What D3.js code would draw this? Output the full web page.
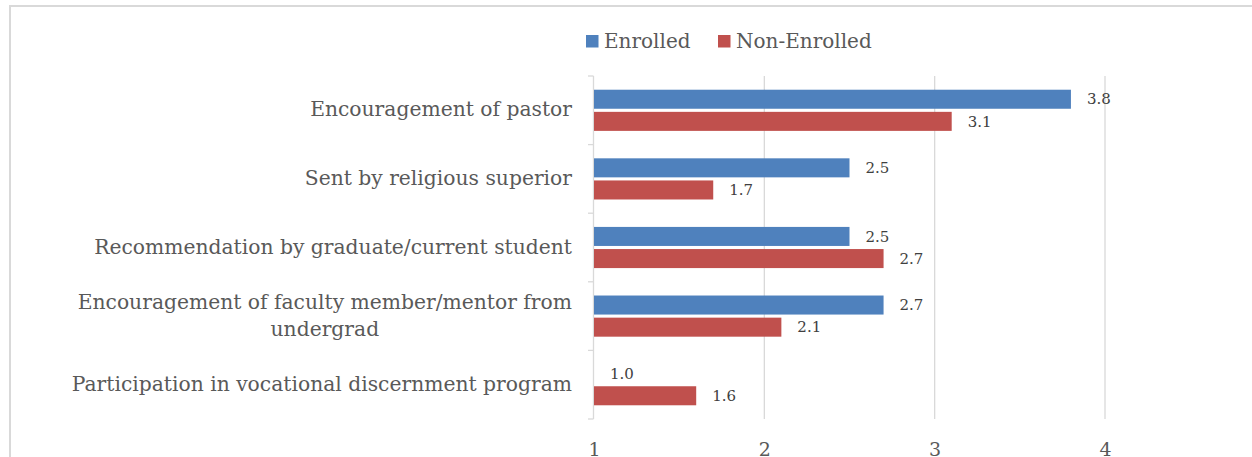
<!DOCTYPE html>
<html>
<head>
<meta charset="utf-8">
<script src="https://cdn.jsdelivr.net/npm/d3@7"></script>
<style>
  html, body { margin: 0; padding: 0; background: #fff; }
  svg { display: block; }
</style>
</head>
<body>
<svg id="chart" width="1252" height="457"></svg>
<script>
// Reasons for applying, mean rating by enrolment status
const categories = [
  "Encouragement of pastor",
  "Sent by religious superior",
  "Recommendation by graduate/current student",
  "Encouragement of faculty member/mentor from undergrad",
  "Participation in vocational discernment program"
];
const seriesNames = ["Enrolled", "Non-Enrolled"];
const enrolled = [3.8, 2.5, 2.5, 2.7, 1.0];
const nonEnrolled = [3.1, 1.7, 2.7, 2.1, 1.6];
const xTicks = [1, 2, 3, 4];

const colors = { "Enrolled": "#4F81BD", "Non-Enrolled": "#C0504D" };
const textColor = "#595959";
const gridColor = "#D9D9D9";
const serif = "'DejaVu Serif', 'Liberation Serif', serif";

const svg = d3.select("#chart");

// chart frame
svg.append("path")
  .attr("d", "M10,460 L10,6 L1260,6")
  .attr("fill", "none")
  .attr("stroke", "#D9D9D9")
  .attr("stroke-width", 2);

const plot = { left: 594, right: 1105, top: 76, bottom: 419 };

const x = d3.scaleLinear().domain([1, 4]).range([plot.left, plot.right]);
const y = d3.scaleBand().domain(categories).range([plot.top, plot.bottom]);
const ySub = d3.scaleBand().domain(seriesNames).range([0, y.bandwidth()])
  .paddingInner(0.14).paddingOuter(0.62);

// vertical gridlines
svg.append("g").selectAll("line").data(xTicks.slice(1)).join("line")
  .attr("x1", d => x(d)).attr("x2", d => x(d))
  .attr("y1", plot.top).attr("y2", plot.bottom)
  .attr("stroke", gridColor).attr("stroke-width", 1.3);

// category axis line with boundary ticks
const axisG = svg.append("g");
axisG.append("line")
  .attr("x1", plot.left - 0.5).attr("x2", plot.left - 0.5)
  .attr("y1", plot.top).attr("y2", plot.bottom)
  .attr("stroke", gridColor).attr("stroke-width", 1.3);
const bounds = categories.map(c => y(c)).concat([plot.bottom]);
axisG.selectAll("line.tk").data(bounds).join("line")
  .attr("class", "tk")
  .attr("x1", plot.left - 6).attr("x2", plot.left - 0.5)
  .attr("y1", d => d).attr("y2", d => d)
  .attr("stroke", gridColor).attr("stroke-width", 1.3);

// bottom value axis labels
const xAxis = d3.axisBottom(x).tickValues(xTicks).tickFormat(d3.format("d")).tickSize(0).tickPadding(0);
const xg = svg.append("g").attr("transform", `translate(0, 441)`).call(xAxis);
xg.select(".domain").remove();
xg.selectAll("text")
  .attr("dy", "0.78em")
  .attr("fill", textColor)
  .style("font-family", serif)
  .style("font-size", "19px");

// category labels (wrapped to fit)
const labelG = svg.append("g");
const maxLabelWidth = 505;
const labelSize = 20.3;
categories.forEach(cat => {
  const t = labelG.append("text")
    .attr("fill", textColor)
    .style("font-family", serif)
    .style("font-size", labelSize + "px")
    .attr("text-anchor", "middle");
  const words = cat.split(" ");
  let lines = [];
  let cur = [];
  const probe = labelG.append("text").style("font-family", serif).style("font-size", labelSize + "px");
  words.forEach(w => {
    const test = cur.concat([w]).join(" ");
    probe.text(test);
    if (probe.node().getComputedTextLength() > maxLabelWidth && cur.length) {
      lines.push(cur.join(" "));
      cur = [w];
    } else {
      cur.push(w);
    }
  });
  lines.push(cur.join(" "));
  const widest = d3.max(lines, l => { probe.text(l); return probe.node().getComputedTextLength(); });
  probe.remove();
  const cx = 572 - widest / 2;
  const lineH = 27;
  const cy = y(cat) + y.bandwidth() / 2 - 1;
  lines.forEach((l, i) => {
    t.append("tspan")
      .attr("x", cx)
      .attr("y", cy + (i - (lines.length - 1) / 2) * lineH)
      .attr("dy", "0.35em")
      .text(l);
  });
});

// bars
const rows = categories.map((c, i) => ({ cat: c, values: [
  { key: "Enrolled", v: enrolled[i] },
  { key: "Non-Enrolled", v: nonEnrolled[i] }
]}));

const groups = svg.append("g").selectAll("g").data(rows).join("g")
  .attr("transform", d => `translate(0, ${y(d.cat)})`);

groups.selectAll("rect").data(d => d.values).join("rect")
  .attr("x", x(1))
  .attr("y", d => ySub(d.key))
  .attr("width", d => x(d.v) - x(1))
  .attr("height", ySub.bandwidth())
  .attr("fill", d => colors[d.key]);

groups.selectAll("text").data(d => d.values).join("text")
  .attr("x", d => x(d.v) + 16)
  .attr("y", d => ySub(d.key) + ySub.bandwidth() / 2)
  .attr("dy", "0.35em")
  .attr("fill", "#404040")
  .style("font-family", serif)
  .style("font-size", "15px")
  .text(d => d3.format(".1f")(d.v));

// legend
const legend = svg.append("g").attr("transform", "translate(586, 40)");
const legendItems = [{ key: "Enrolled", x: 0 }, { key: "Non-Enrolled", x: 132 }];
legendItems.forEach(it => {
  legend.append("rect")
    .attr("x", it.x).attr("y", -5)
    .attr("width", 12.5).attr("height", 12.5)
    .attr("fill", colors[it.key]);
  legend.append("text")
    .attr("x", it.x + 18).attr("y", 1)
    .attr("dy", "0.35em")
    .attr("fill", textColor)
    .style("font-family", serif)
    .style("font-size", "20px")
    .text(it.key);
});
</script>
</body>
</html>
